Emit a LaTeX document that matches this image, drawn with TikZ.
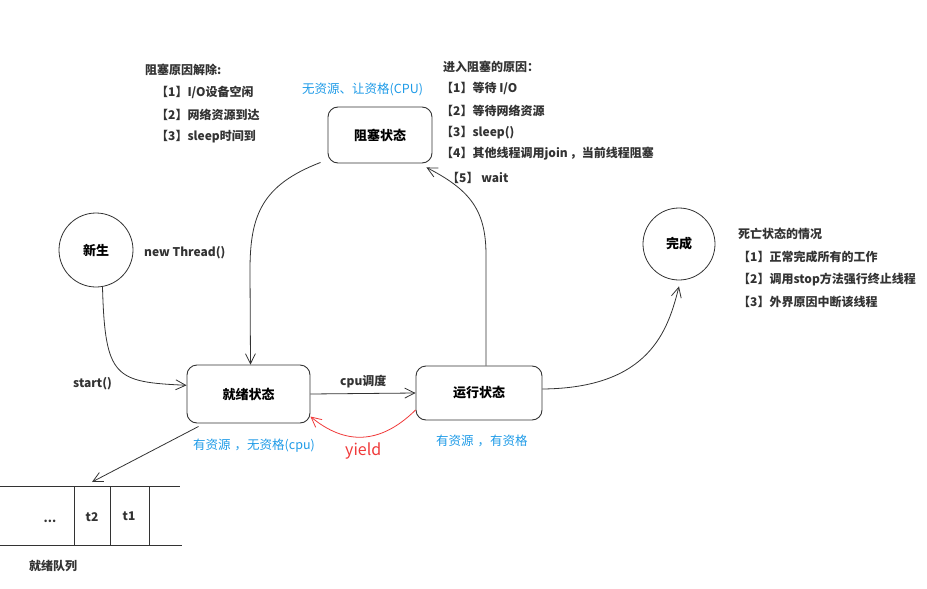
\documentclass[tikz,border=0pt]{standalone}
\usepackage{fontspec}
\setmainfont{Noto Sans CJK SC}
\usetikzlibrary{arrows.meta}
\definecolor{ink}{HTML}{333333}
\definecolor{bluetxt}{HTML}{1E9BE8}
\definecolor{redline}{HTML}{F03A3A}
\tikzset{
  state/.style={draw=ink, line width=0.9pt, rounded corners=10pt, font=\bfseries\fontsize{13}{15}\selectfont, inner sep=0pt},
  circ/.style={draw=ink, line width=0.8pt, circle, font=\bfseries\fontsize{13}{15}\selectfont, inner sep=0pt},
  txt/.style={anchor=west, inner sep=0pt, text=ink, font=\bfseries\fontsize{12}{14}\selectfont},
  bluelbl/.style={anchor=west, inner sep=0pt, text=bluetxt, font=\fontsize{12.5}{14}\selectfont},
  conn/.style={draw=ink, line width=0.8pt, -{Straight Barb[length=10pt,width=10pt,line width=0.8pt]}},
  qline/.style={draw=ink, line width=0.9pt}
}
\begin{document}
\begin{tikzpicture}[x=1pt,y=-1pt]
\useasboundingbox[fill=white] (0,0) rectangle (927,589);

% states
\node[state, minimum width=104pt, minimum height=56pt] (blk) at (380,135) {阻塞状态};
\node[state, minimum width=123pt, minimum height=58pt] (ready) at (248.5,394) {就绪状态};
\node[state, minimum width=126pt, minimum height=54pt] (run) at (479,393) {运行状态};
\node[circ, minimum size=74pt] (new) at (96,250) {新生};
\node[circ, minimum size=72pt] (done) at (679,244) {完成};

% texts
\node[txt] (t1h) at (145,70) {阻塞原因解除:};
\node[txt] (t1a) at (156,92) {【1】I/O设备空闲};
\node[txt] (t1b) at (156,115) {【2】网络资源到达};
\node[txt] (t1c) at (156,137) {【3】sleep时间到};
\node[bluelbl] (lblk) at (302,89) {无资源、让资格(CPU)};

\node[txt] (t2h) at (443,67) {进入阻塞的原因：};
\node[txt] (t2a) at (441,88) {【1】等待 I/O};
\node[txt] (t2b) at (441,111) {【2】等待网络资源};
\node[txt] (t2c) at (441,133) {【3】sleep()};
\node[txt] (t2d) at (441,154) {【4】其他线程调用join\hspace{2pt}，当前线程阻塞};
\node[txt] (t2e) at (447,178) {【5】 wait};

\node[txt] (lnew) at (144,253) {new Thread()};

\node[txt] (t3h) at (738,234) {死亡状态的情况};
\node[txt] (t3a) at (738,257) {【1】正常完成所有的工作};
\node[txt] (t3b) at (738,280) {【2】调用stop方法强行终止线程};
\node[txt] (t3c) at (738,302) {【3】外界原因中断该线程};

\node[txt] (lstart) at (73,384) {start()};
\node[txt] (lcpu) at (340,382) {cpu调度};
\node[bluelbl] (lready) at (193,446) {有资源\hspace{4pt}，无资格(cpu)};
\node[anchor=west, inner sep=0pt, text=redline, font=\fontsize{16}{18}\selectfont] (lyield) at (345,451) {yield};
\node[bluelbl] (lrun) at (436,441) {有资源\hspace{4pt}，有资格};

% queue
\draw[qline] (0,486) -- (180,486);
\draw[qline] (0,545) -- (182,545);
\draw[qline] (74,486) -- (74,545);
\draw[qline] (110,486) -- (110,545);
\draw[qline] (149,486) -- (149,545);
\node[txt, anchor=center] (qdots) at (50,521) {...};
\node[txt, anchor=center] (qt2) at (92,517) {t2};
\node[txt, anchor=center] (qt1) at (129,516) {t1};
\coordinate (qtop) at (92,482);
\node[txt] (lqueue) at (29,566) {就绪队列};

% connectors
\draw[conn] (new.-80) .. controls (105,378) and (115,382) .. (ready.172);
\draw[conn] ([xshift=-7pt,yshift=1pt]blk.south west) .. controls (262,185) and (250,215) .. (250,270) -- ([xshift=2pt]ready.north);
\draw[conn] ([xshift=7pt]run.north) -- (486,255) .. controls (486,210) and (470,190) .. ([xshift=-6pt,yshift=-4pt]blk.south east);
\draw[conn] ([yshift=4pt]run.east) .. controls (650,388) and (668,330) .. ([yshift=-6pt]done.south);
\draw[conn] (ready.east) -- (run.west);
\draw[conn, draw=redline] (run.195) .. controls (380,445) and (345,445) .. (ready.-20);
\draw[conn] ([xshift=12pt,yshift=-3pt]ready.south west) -- (qtop);
\end{tikzpicture}
\end{document}
